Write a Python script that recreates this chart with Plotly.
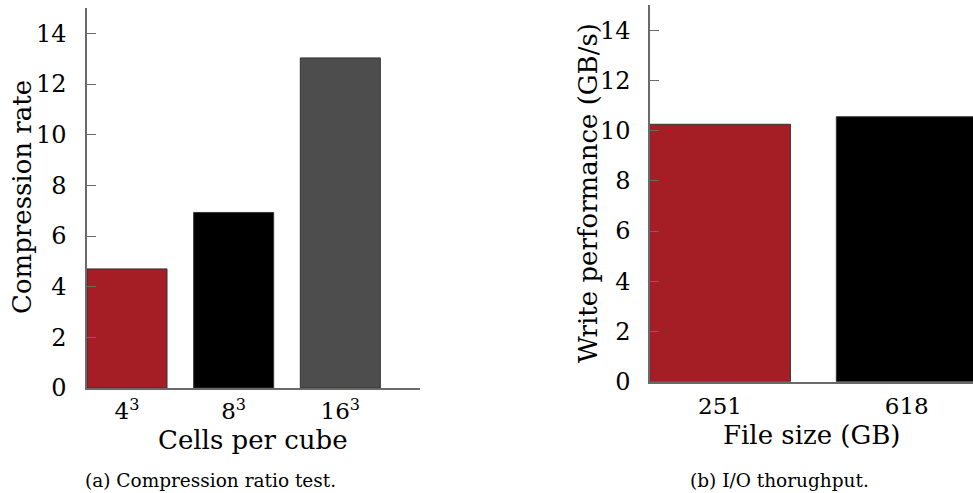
import plotly.graph_objects as go

# Compression test: cells per cube vs. compression rate
cube_labels = ["4<sup>3</sup>", "8<sup>3</sup>", "16<sup>3</sup>"]
compression_rate = [4.70, 6.93, 13.03]
cube_colors = ["#A51E26", "#000000", "#4D4D4D"]

# I/O throughput: file size vs. write performance
file_sizes = ["251", "618"]
write_perf = [10.25, 10.55]
io_colors = ["#A51E26", "#000000"]

y_ticks = [0, 2, 4, 6, 8, 10, 12, 14]

W, H = 973, 493
FONT = "DejaVu Serif"
AXIS_COLOR = "#6a6a6a"
OUTLINE = "#333333"

fig = go.Figure()

fig.add_trace(go.Bar(
    x=list(range(len(cube_labels))), y=compression_rate, width=0.75,
    marker=dict(color=cube_colors, line=dict(color=OUTLINE, width=1)),
    xaxis="x", yaxis="y", showlegend=False,
))
fig.add_trace(go.Bar(
    x=list(range(len(file_sizes))), y=write_perf, width=0.754,
    marker=dict(color=io_colors, line=dict(color=OUTLINE, width=1)),
    xaxis="x2", yaxis="y2", showlegend=False,
))

y_tick_font = dict(family=FONT, size=24, color="#000000")
x_tick_font = dict(family=FONT, size=23, color="#000000")
common_y = dict(
    range=[0, 15], tickvals=y_ticks, ticks="inside", ticklen=9,
    tickcolor=AXIS_COLOR, tickwidth=1, showline=True, linecolor=AXIS_COLOR,
    linewidth=1.5, showgrid=False, zeroline=False, tickfont=y_tick_font,
    fixedrange=True, automargin=False,
)
common_x = dict(
    ticks="", showline=True, linecolor=AXIS_COLOR, linewidth=1.5,
    showgrid=False, zeroline=False, tickfont=x_tick_font, fixedrange=True,
    automargin=False,
)

fig.update_layout(
    width=W, height=H,
    margin=dict(l=0, r=0, t=0, b=0),
    paper_bgcolor="white", plot_bgcolor="white",
    font=dict(family=FONT, color="#000000"),
    xaxis=dict(domain=[87 / W, 420 / W], range=[-0.375, 2.747],
               tickvals=list(range(len(cube_labels))), ticktext=cube_labels,
               ticklabelstandoff=2, anchor="y", **common_x),
    yaxis=dict(domain=[1 - 388 / H, 1 - 8 / H], anchor="x",
               ticklabelstandoff=14, **common_y),
    xaxis2=dict(domain=[650 / W, 1.0], range=[-0.375, 1.355],
                tickvals=list(range(len(file_sizes))), ticktext=file_sizes,
                ticklabelstandoff=3, anchor="y2", **common_x),
    yaxis2=dict(domain=[1 - 381.7 / H, 1 - 5 / H], anchor="x2",
                ticklabelstandoff=13, **common_y),
)

title_font = dict(family=FONT, size=26, color="#000000")
caption_font = dict(family=FONT, size=18.5, color="#000000")


def px_note(text, x, y, font, angle=0):
    fig.add_annotation(
        text=text, x=x / W, y=1 - y / H, xref="paper", yref="paper",
        xanchor="center", yanchor="middle", showarrow=False,
        font=font, textangle=angle,
    )


px_note("Compression rate", 22, 197, title_font, -90)
px_note("Cells per cube", 253, 440, title_font)
px_note("Write performance (GB/s)", 588, 193, title_font, -90)
px_note("File size (GB)", 811.5, 435, title_font)
px_note("(a) Compression ratio test.", 210, 480, caption_font)
px_note("(b) I/O thorughput.", 779, 480, caption_font)

fig.write_html("out.html")
